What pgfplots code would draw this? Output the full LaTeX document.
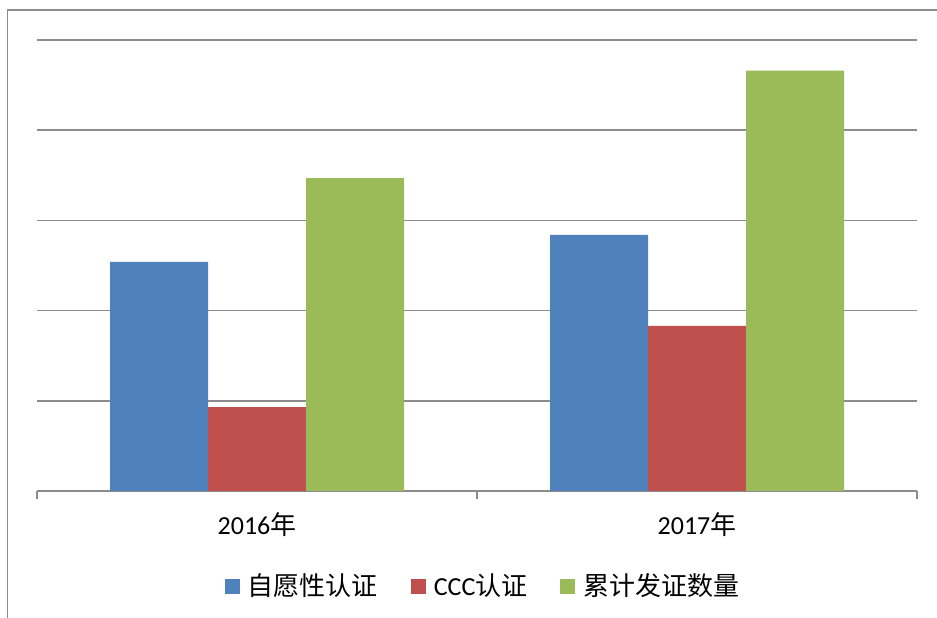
\documentclass[border=0pt]{standalone}
\usepackage{fontspec}
\setmainfont{Carlito}
\newfontfamily\cjk{Noto Sans CJK SC}
\usepackage{pgfplots}
\pgfplotsset{compat=1.18}
\definecolor{sblue}{HTML}{4F81BD}
\definecolor{sred}{HTML}{C0504D}
\definecolor{sgreen}{HTML}{9BBB59}
\definecolor{lgray}{HTML}{8C8C8C}
\begin{document}
\fontsize{26}{31}\selectfont
\begin{tikzpicture}[x=1pt,y=1pt]
\useasboundingbox (0,0) rectangle (937,618);
\draw[lgray,line width=1.8pt] (7.5,0) -- (7.5,608) -- (937,608);
\begin{axis}[
  at={(37pt,127pt)}, anchor=south west,
  scale only axis, width=880pt, height=451pt,
  ybar=0pt, bar width=98pt,
  xmin=-0.5, xmax=1.5, ymin=0, ymax=50,
  ytick={0,10,20,30,40,50}, yticklabels={},
  ymajorgrids, major grid style={lgray,line width=1.5pt},
  axis x line*=bottom, axis y line*=left,
  y axis line style={draw=none}, ytick style={draw=none},
  x axis line style={lgray,line width=1.5pt,-},
  xtick={-0.5,0.5,1.5}, x tick label as interval,
  xticklabels={2016{\cjk 年},2017{\cjk 年}},
  tick align=outside, major tick length=8pt,
  xtick style={draw=lgray,line width=1.5pt},
  xticklabel style={font=\fontsize{26}{31}\selectfont, yshift=-5pt},
  legend columns=-1,
  legend style={at={(0.507,-0.212)}, anchor=center, draw=none, fill=none,
    font=\fontsize{26}{31}\selectfont,
    /tikz/every odd column/.append style={column sep=6pt},
    /tikz/every even column/.append style={column sep=31pt}},
  legend image code/.code={\fill[#1] (0pt,-7.5pt) rectangle (15pt,7.5pt);},
]
\addplot[fill=sblue,draw=none] coordinates {(0,25.4) (1,28.4)};
\addplot[fill=sred,draw=none] coordinates {(0,9.3) (1,18.3)};
\addplot[fill=sgreen,draw=none] coordinates {(0,34.7) (1,46.6)};
\legend{{\cjk 自愿性认证},CCC{\cjk 认证},{\cjk 累计发证数量}}
\end{axis}
\end{tikzpicture}
\end{document}
